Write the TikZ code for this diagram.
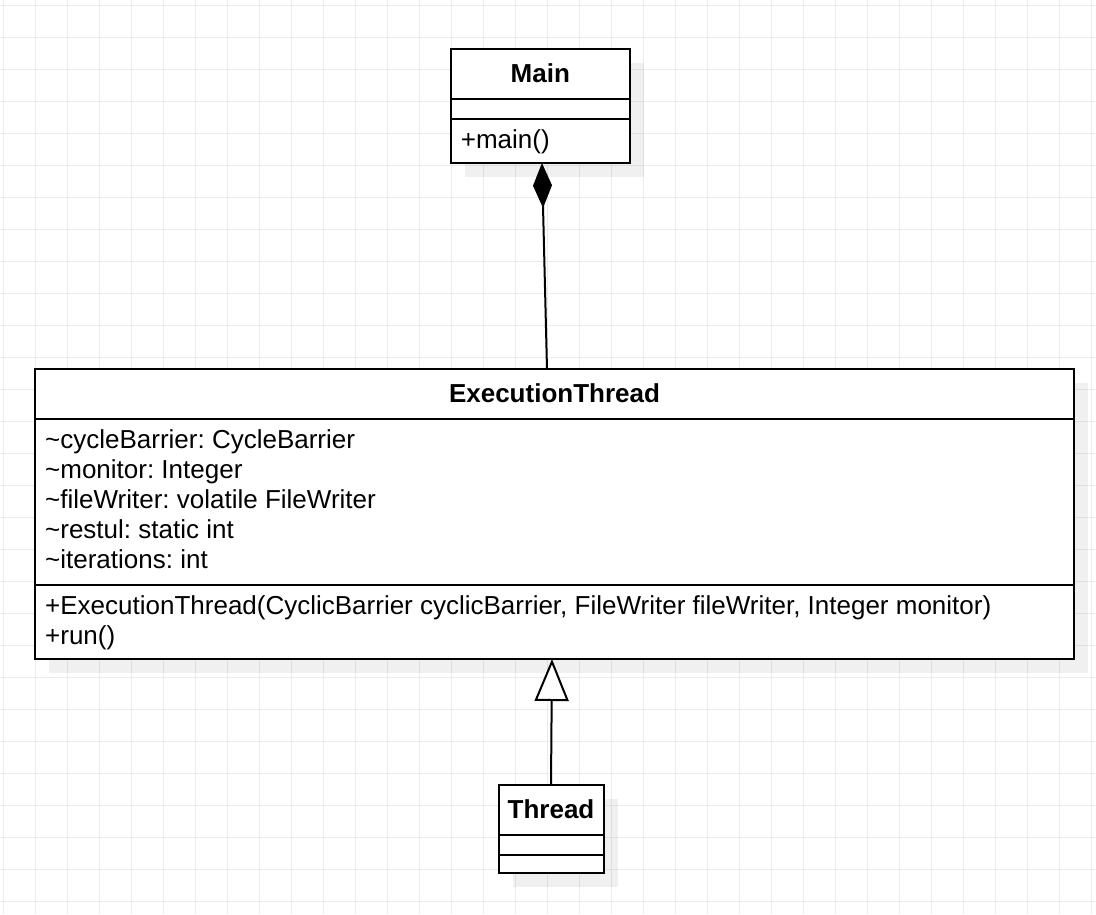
\documentclass[tikz,border=0pt]{standalone}
\usepackage{fontspec}
\setmainfont{Liberation Sans}
\frenchspacing
\usetikzlibrary{arrows.meta,positioning,calc,backgrounds}
\definecolor{gridgray}{RGB}{235,235,235}
\tikzset{
  every node/.style={
    font=\fontsize{26}{30}\selectfont
  },
  compartment/.style={
    shape=rectangle,
    anchor=north west,
    draw=black,
    line width=2pt,
    fill=white,
    inner sep=0pt,
    outer sep=0pt
  },
  classhead/.style={
    compartment,
    minimum height=50pt,
    font=\fontsize{26}{30}\selectfont\bfseries,
    text height=22pt,
    text depth=6pt
  },
  member/.style={
    anchor=base west,
    inner sep=0pt
  },
  gridline/.style={
    draw=gridgray,
    line width=1pt
  },
  shadowbox/.style={
    fill=black,
    fill opacity=0.06
  },
  composition/.style={
    line width=2pt,
    {Diamond[length=45pt,width=19pt]}-
  },
  inheritance/.style={
    line width=2pt,
    -{Triangle[open,length=42pt,width=34pt,fill=white]}
  }
}

\begin{document}
\begin{tikzpicture}[x=1pt,y=-1pt]
\useasboundingbox (0,0) rectangle (1096,914);

% Main
\node [classhead, minimum width=179.3pt] (mainHead) at (450.7,49) {Main};
\node [compartment, minimum width=179.3pt, minimum height=20pt, below=0pt of mainHead] (mainAttrs) {};
\node [compartment, minimum width=179.3pt, minimum height=44pt, below=0pt of mainAttrs] (mainOps) {};
\node [member] (mainOp1) at ([shift={(10,29)}]mainOps.north west) {+main()};

% ExecutionThread
\node [classhead, minimum width=1039pt] (execHead) at (35,369) {ExecutionThread};
\node [compartment, minimum width=1039pt, minimum height=166pt, below=0pt of execHead] (execAttrs) {};
\node [compartment, minimum width=1039pt, minimum height=74pt, below=0pt of execAttrs] (execOps) {};
\foreach \txt [count=\i] in {
  \textasciitilde cycleBarrier: CycleBarrier,
  \textasciitilde monitor: Integer,
  \textasciitilde fileWriter: volatile FileWriter,
  \textasciitilde restul: static int,
  \textasciitilde iterations: int}
  \node [member] (execAttr\i) at ([shift={(10,{29+30*(\i-1)})}]execAttrs.north west) {\txt};
\foreach \txt [count=\i] in {
  {+ExecutionThread(CyclicBarrier cyclicBarrier, FileWriter fileWriter, Integer monitor)},
  {+run()}}
  \node [member] (execOp\i) at ([shift={(10,{29+30*(\i-1)})}]execOps.north west) {\txt};

% Thread
\node [classhead, minimum width=105pt] (threadHead) at (498.5,785) {Thread};
\node [compartment, minimum width=105pt, minimum height=20pt, below=0pt of threadHead] (threadAttrs) {};
\node [compartment, minimum width=105pt, minimum height=18pt, below=0pt of threadAttrs] (threadOps) {};

% relations
\draw [composition] ([xshift=1.6pt]mainOps.south) -- ([xshift=-7.5pt]execHead.north);
\draw [inheritance] (threadHead.north) -- ([xshift=-2.5pt]execOps.south);

% grid and shadows
\begin{scope}[on background layer]
  \foreach \gx in {0,...,34}
    \draw [gridline] ({3.3+32*\gx},0) -- ++(0,914);
  \foreach \gy in {0,...,28}
    \draw [gridline] (0,{5+32*\gy}) -- ++(1096,0);
  \fill [shadowbox] ([shift={(14,14)}]mainHead.north west) rectangle ([shift={(14,14)}]mainOps.south east);
  \fill [shadowbox] ([shift={(14,14)}]execHead.north west) rectangle ([shift={(14,14)}]execOps.south east);
  \fill [shadowbox] ([shift={(14,14)}]threadHead.north west) rectangle ([shift={(14,14)}]threadOps.south east);
\end{scope}

\end{tikzpicture}
\end{document}
